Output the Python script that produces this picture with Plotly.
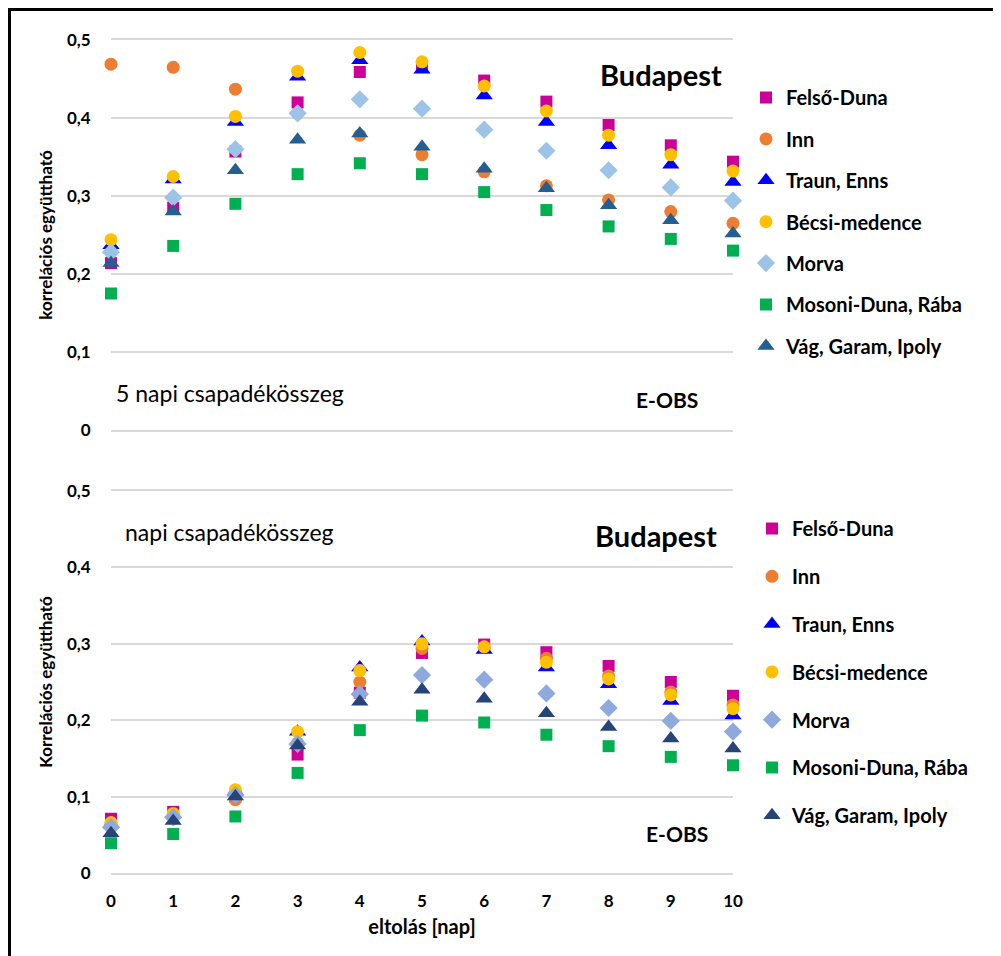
import plotly.graph_objects as go
from plotly.subplots import make_subplots

# ---------------- data ----------------
lags = [0, 1, 2, 3, 4, 5, 6, 7, 8, 9, 10]
series_names = ["Felső-Duna", "Inn", "Traun, Enns", "Bécsi-medence", "Morva",
                "Mosoni-Duna, Rába", "Vág, Garam, Ipoly"]

# top panel: 5 napi csapadékösszeg
top_felso_duna = [0.214, 0.285, 0.357, 0.420, 0.459, 0.466, 0.448, 0.421, 0.391, 0.365, 0.344]
top_inn        = [0.469, 0.465, 0.437, 0.406, 0.378, 0.353, 0.331, 0.313, 0.295, 0.280, 0.265]
top_traun      = [0.237, 0.321, 0.395, 0.453, 0.474, 0.462, 0.429, 0.395, 0.365, 0.340, 0.318]
top_becsi      = [0.244, 0.325, 0.402, 0.460, 0.484, 0.472, 0.441, 0.409, 0.378, 0.353, 0.332]
top_morva      = [0.228, 0.298, 0.360, 0.406, 0.424, 0.412, 0.385, 0.358, 0.333, 0.311, 0.294]
top_mosoni     = [0.175, 0.236, 0.290, 0.328, 0.342, 0.328, 0.305, 0.282, 0.261, 0.245, 0.230]
top_vag        = [0.214, 0.280, 0.333, 0.372, 0.380, 0.363, 0.335, 0.310, 0.288, 0.269, 0.252]

# bottom panel: napi csapadékösszeg
bot_felso_duna = [0.071, 0.080, 0.100, 0.155, 0.236, 0.288, 0.299, 0.289, 0.271, 0.250, 0.232]
bot_inn        = [0.064, 0.076, 0.096, 0.170, 0.250, 0.294, 0.295, 0.281, 0.258, 0.237, 0.220]
bot_traun      = [0.064, 0.077, 0.107, 0.185, 0.269, 0.303, 0.292, 0.269, 0.247, 0.225, 0.206]
bot_becsi      = [0.066, 0.078, 0.109, 0.185, 0.265, 0.300, 0.296, 0.276, 0.254, 0.233, 0.215]
bot_morva      = [0.060, 0.073, 0.102, 0.169, 0.234, 0.259, 0.253, 0.235, 0.216, 0.199, 0.185]
bot_mosoni     = [0.039, 0.051, 0.074, 0.131, 0.187, 0.206, 0.197, 0.181, 0.166, 0.152, 0.141]
bot_vag        = [0.052, 0.068, 0.100, 0.167, 0.224, 0.240, 0.228, 0.209, 0.191, 0.176, 0.163]

y_tickvals = [0, 0.1, 0.2, 0.3, 0.4, 0.5]
y_ticktext = ["0", "0,1", "0,2", "0,3", "0,4", "0,5"]
x_ticktext = ["0", "1", "2", "3", "4", "5", "6", "7", "8", "9", "10"]

top_values = [top_felso_duna, top_inn, top_traun, top_becsi, top_morva, top_mosoni, top_vag]
bot_values = [bot_felso_duna, bot_inn, bot_traun, bot_becsi, bot_morva, bot_mosoni, bot_vag]

# ---------------- styles ----------------
FONT = "Lato"
BLACK = "#000000"
GRID = "#D9D9D9"
symbols = ["square", "circle", "triangle-up", "circle", "diamond", "square", "triangle-up"]
sizes = [12, 13, 15, 13, 14, 12, 15]
top_colors = ["#CC0099", "#ED7D31", "#0000FF", "#FFC000", "#9DC3E6", "#00B050", "#255E91"]
bot_colors = ["#CC0099", "#ED7D31", "#0000FF", "#FFC000", "#8EA9DB", "#00B050", "#264478"]

W, H = 1001, 956
OFF = 8  # page body offset
ML, MR, MT, MB = 103, 276, 32, 91
PW, PH = W - ML - MR, H - MT - MB


def px_x(px):
    return (px - OFF - ML) / PW


def px_y(py):
    return (H - MB - (py - OFF)) / PH


top_dom = [px_y(430), 1.0]
bot_dom = [0.0, px_y(491)]

fig = make_subplots(rows=2, cols=1, vertical_spacing=0.05)

for i, name in enumerate(series_names):
    fig.add_trace(go.Scatter(
        x=lags, y=top_values[i], mode="markers", name=name,
        marker=dict(symbol=symbols[i], size=sizes[i], color=top_colors[i],
                    line=dict(width=0)),
        cliponaxis=False, legend="legend", legendgroup="t" + str(i),
    ), row=1, col=1)

for i, name in enumerate(series_names):
    fig.add_trace(go.Scatter(
        x=lags, y=bot_values[i], mode="markers", name=name,
        marker=dict(symbol=symbols[i], size=sizes[i], color=bot_colors[i],
                    line=dict(width=0)),
        cliponaxis=False, legend="legend2", legendgroup="b" + str(i),
    ), row=2, col=1)

tick_font = dict(family=FONT, size=17, color=BLACK, weight="bold")
title_font = dict(family=FONT, size=17, color=BLACK, weight="bold")

# x axes: their (mirrored) lines provide the 0 and 0,5 gridlines
fig.update_xaxes(range=[0, 10], tickvals=lags, ticktext=x_ticktext, showgrid=False,
                 zeroline=False, showline=True, mirror=True, linecolor=GRID,
                 linewidth=1.5, domain=[0, 1], layer="below traces")
fig.update_xaxes(showticklabels=False, row=1, col=1)
fig.update_xaxes(ticks="outside", ticklen=12, tickcolor="rgba(0,0,0,0)",
                 tickfont=tick_font,
                 title=dict(text="eltolás [nap]", standoff=10,
                            font=dict(family=FONT, size=20, color=BLACK, weight="bold")),
                 row=2, col=1)

ycommon = dict(range=[0, 0.5], tickvals=y_tickvals, ticktext=y_ticktext, showgrid=True,
               gridcolor=GRID, gridwidth=1.5, zeroline=False, showline=False,
               ticks="outside", ticklen=16, tickcolor="rgba(0,0,0,0)",
               tickfont=tick_font)
fig.update_yaxes(domain=top_dom,
                 title=dict(text="korrelációs együttható", standoff=9, font=title_font),
                 row=1, col=1, **ycommon)
fig.update_yaxes(domain=bot_dom,
                 title=dict(text="Korrelációs együttható", standoff=9, font=title_font),
                 row=2, col=1, **ycommon)

ann = []


def add_text(text, cx, cy, size, bold=False):
    ann.append(dict(text=text, x=px_x(cx), y=px_y(cy), xref="paper", yref="paper",
                    showarrow=False, xanchor="center", yanchor="middle",
                    font=dict(family=FONT, size=size, color=BLACK,
                              weight="bold" if bold else "normal")))


add_text("Budapest", 661, 75, 29, bold=True)
add_text("5 napi csapadékösszeg", 230, 393, 23)
add_text("E-OBS", 667, 399, 21, bold=True)
add_text("napi csapadékösszeg", 229, 532, 23)
add_text("Budapest", 656, 535, 29, bold=True)
add_text("E-OBS", 677, 833, 21, bold=True)

legend_common = dict(xanchor="left", yanchor="top", bgcolor="rgba(0,0,0,0)",
                     font=dict(family=FONT, size=20, color=BLACK, weight="bold"),
                     itemclick=False, itemdoubleclick=False)

fig.update_layout(
    width=W, height=H,
    margin=dict(l=ML, r=MR, t=MT, b=MB),
    paper_bgcolor="white", plot_bgcolor="white",
    showlegend=True,
    legend=dict(x=px_x(746), y=px_y(78), tracegroupgap=12.4, **legend_common),
    legend2=dict(x=px_x(752), y=px_y(509), tracegroupgap=18.8, **legend_common),
    annotations=ann,
    shapes=[
        dict(type="line", xref="paper", yref="paper", x0=px_x(8), x1=px_x(1020),
             y0=px_y(9.5), y1=px_y(9.5), line=dict(color="black", width=3)),
        dict(type="line", xref="paper", yref="paper", x0=px_x(9.5), x1=px_x(9.5),
             y0=px_y(8), y1=px_y(980), line=dict(color="black", width=3)),
    ],
)

fig.write_html("out.html")
